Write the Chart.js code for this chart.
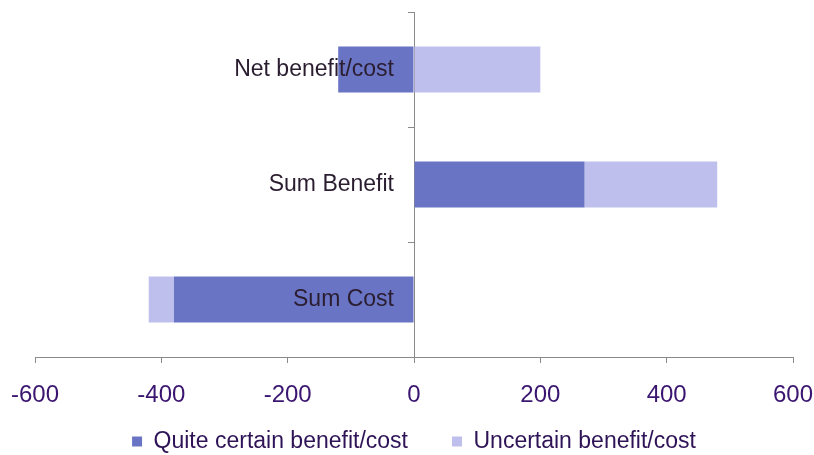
<!DOCTYPE html>
<html>
<head>
<meta charset="utf-8">
<script src="https://cdn.jsdelivr.net/npm/chart.js@4"></script>
<style>
  html, body { margin: 0; padding: 0; background: #fff; }
  #wrap { width: 814px; height: 455px; }
</style>
</head>
<body>
<div id="wrap"><canvas id="benefitChart"></canvas></div>
<script>
const categories = ['Net benefit/cost', 'Sum Benefit', 'Sum Cost'];
const quiteCertain = [-120, 270, -380];
const uncertain = [200, 210, -40];
const xTicks = [-600, -400, -200, 0, 200, 400, 600];

const axisGrey = '#8a8a8a';
const fontFamily = 'Liberation Sans, Arial, sans-serif';
// space between the category names and the zero line
const labelGap = 20;

function initChart() {
  const ctx = document.getElementById('benefitChart');
  new Chart(ctx, {
    type: 'bar',
    data: {
      labels: categories,
      datasets: [{
        label: 'Quite certain benefit/cost',
        data: quiteCertain,
        backgroundColor: '#6a74c4',
        borderWidth: 0,
        barPercentage: 0.4,
        categoryPercentage: 1
      }, {
        label: 'Uncertain benefit/cost',
        data: uncertain,
        backgroundColor: '#bfbfee',
        borderWidth: 0,
        barPercentage: 0.4,
        categoryPercentage: 1
      }]
    },
    options: {
      indexAxis: 'y',
      responsive: true,
      maintainAspectRatio: false,
      animation: false,
      layout: {
        padding: { left: 35, right: 21, top: 12, bottom: -8 }
      },
      plugins: {
        legend: {
          position: 'bottom',
          labels: {
            boxWidth: 10,
            boxHeight: 10,
            padding: 44,
            color: '#2e1457',
            font: { family: fontFamily, size: 23 }
          }
        },
        tooltip: { enabled: false }
      },
      scales: {
        x: {
          stacked: true,
          min: -600,
          max: 600,
          afterBuildTicks: (axis) => {
            axis.ticks = xTicks.map(v => ({ value: v }));
          },
          afterFit: (scale) => {
            scale.paddingLeft = 0;
            scale.paddingRight = 0;
            scale.height = 29;
          },
          afterUpdate: (scale) => {
            // labels hang below the shortened axis box, so don't clip them to it
            scale._computeLabelArea = () => undefined;
          },
          grid: {
            drawOnChartArea: false,
            drawTicks: true,
            tickLength: 6,
            color: axisGrey
          },
          border: { color: axisGrey, width: 1 },
          ticks: {
            padding: 18,
            color: '#3b1670',
            font: { family: fontFamily, size: 24 }
          }
        },
        y: {
          stacked: true,
          position: { x: 0 },
          afterFit: (scale) => {
            scale.paddingTop = 0;
            scale.paddingBottom = 0;
          },
          afterUpdate: (scale) => {
            // the axis sits on x = 0, so move its names off the line to the left
            if (scale._labelShift) return;
            scale._labelShift = true;
            const compute = scale._computeLabelItems.bind(scale);
            scale._computeLabelItems = (area) => compute(area).map(item => {
              item.options.translation[0] -= labelGap;
              return item;
            });
          },
          grid: {
            drawOnChartArea: false,
            drawTicks: true,
            tickLength: 6,
            color: axisGrey
          },
          border: { color: axisGrey, width: 1 },
          ticks: {
            z: 1,
            color: '#2a1d30',
            font: { family: fontFamily, size: 23 }
          }
        }
      }
    }
  });
}

document.addEventListener('DOMContentLoaded', initChart);
</script>
</body>
</html>
